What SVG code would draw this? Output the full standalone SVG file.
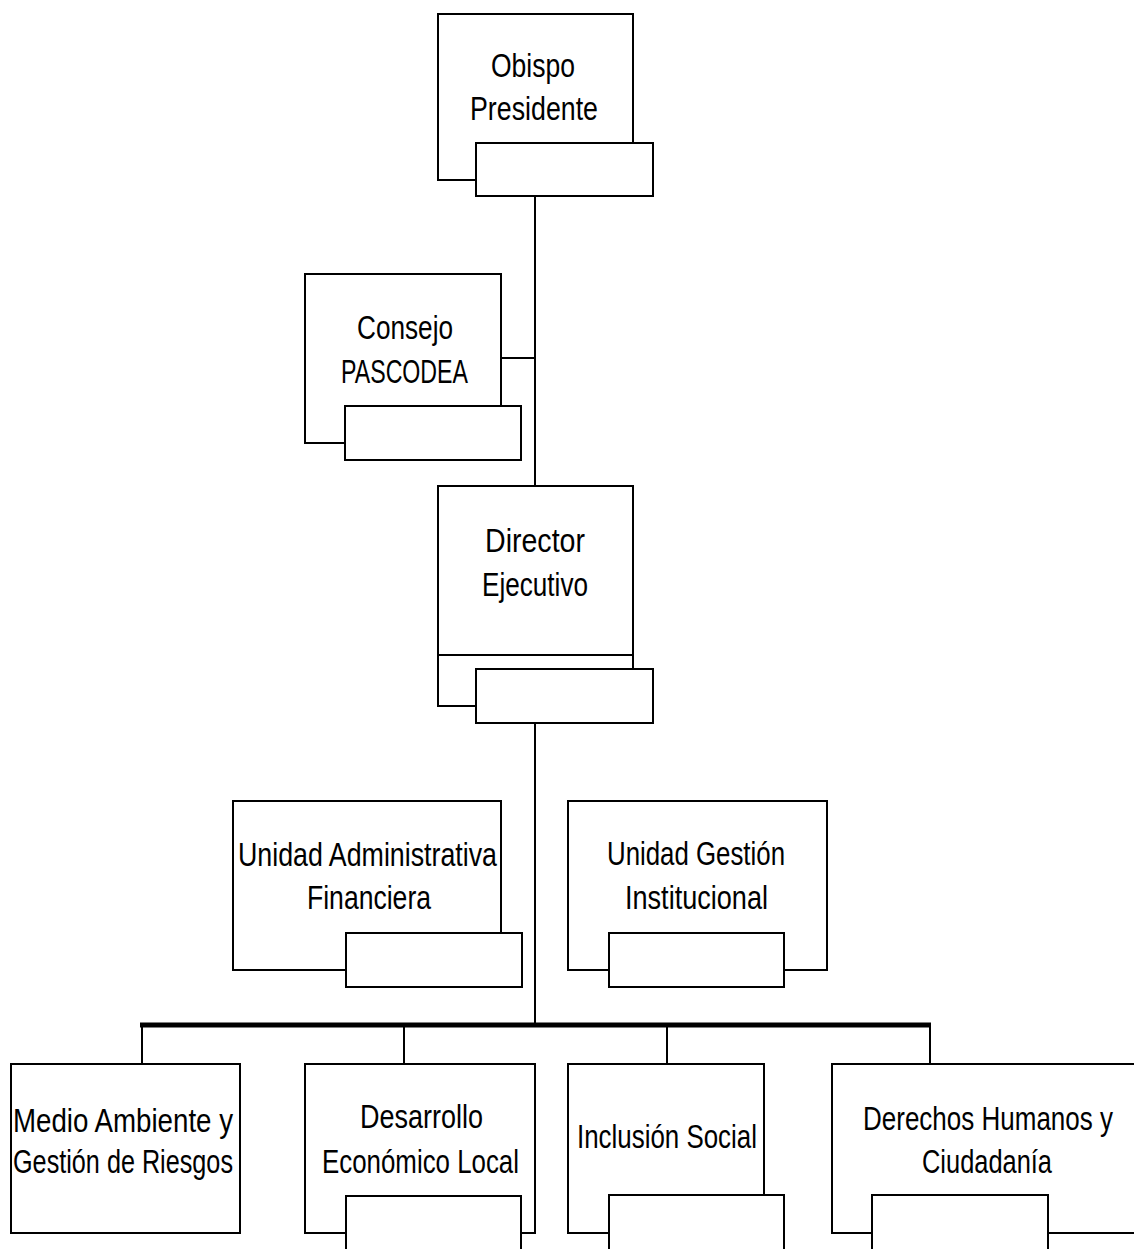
<svg xmlns="http://www.w3.org/2000/svg" width="1134" height="1249" viewBox="0 0 1134 1249">
<style>
.box{fill:#fff;stroke:#000;stroke-width:2}
.ln{fill:none;stroke:#000;stroke-width:2}
.t{font-family:"Liberation Sans",Arial,sans-serif;font-size:34px;fill:#000}
</style>
<rect width="1134" height="1249" fill="#fff"/>
<g id="connectors">
<line class="ln" x1="535" y1="196" x2="535" y2="486"/>
<line class="ln" x1="501" y1="358" x2="535" y2="358"/>
<line class="ln" x1="535" y1="723" x2="535" y2="1025"/>
<line x1="140" y1="1025" x2="931" y2="1025" stroke="#000" stroke-width="5"/>
<line class="ln" x1="142" y1="1025" x2="142" y2="1064"/>
<line class="ln" x1="404" y1="1025" x2="404" y2="1064"/>
<line class="ln" x1="667" y1="1025" x2="667" y2="1064"/>
<line class="ln" x1="930" y1="1025" x2="930" y2="1064"/>
</g>
<g id="obispo">
<rect class="box" x="438" y="14" width="195" height="166"/>
<text class="t" x="491" y="77" textLength="84" lengthAdjust="spacingAndGlyphs">Obispo</text>
<text class="t" x="470" y="120" textLength="128" lengthAdjust="spacingAndGlyphs">Presidente</text>
<rect class="box" x="476" y="143" width="177" height="53"/>
</g>
<g id="consejo">
<rect class="box" x="305" y="274" width="196" height="169"/>
<text class="t" x="357" y="339" textLength="96" lengthAdjust="spacingAndGlyphs">Consejo</text>
<text class="t" x="341" y="383" textLength="127" lengthAdjust="spacingAndGlyphs">PASCODEA</text>
<rect class="box" x="345" y="406" width="176" height="54"/>
</g>
<g id="director">
<rect class="box" x="438" y="486" width="195" height="220"/>
<line class="ln" x1="438" y1="655" x2="633" y2="655"/>
<text class="t" x="485" y="552" textLength="100" lengthAdjust="spacingAndGlyphs">Director</text>
<text class="t" x="482" y="596" textLength="106" lengthAdjust="spacingAndGlyphs">Ejecutivo</text>
<rect class="box" x="476" y="669" width="177" height="54"/>
</g>
<g id="unidad-admin">
<rect class="box" x="233" y="801" width="268" height="169"/>
<text class="t" x="238" y="866" textLength="259" lengthAdjust="spacingAndGlyphs">Unidad Administrativa</text>
<text class="t" x="307" y="909" textLength="124" lengthAdjust="spacingAndGlyphs">Financiera</text>
<rect class="box" x="346" y="933" width="176" height="54"/>
</g>
<g id="unidad-gestion">
<rect class="box" x="568" y="801" width="259" height="169"/>
<text class="t" x="607" y="865" textLength="178" lengthAdjust="spacingAndGlyphs">Unidad Gestión</text>
<text class="t" x="625" y="909" textLength="143" lengthAdjust="spacingAndGlyphs">Institucional</text>
<rect class="box" x="609" y="933" width="175" height="54"/>
</g>
<g id="medio-ambiente">
<rect class="box" x="11" y="1064" width="229" height="169"/>
<text class="t" x="13" y="1132" textLength="220" lengthAdjust="spacingAndGlyphs">Medio Ambiente y</text>
<text class="t" x="13" y="1173" textLength="220" lengthAdjust="spacingAndGlyphs">Gestión de Riesgos</text>
</g>
<g id="desarrollo">
<rect class="box" x="305" y="1064" width="230" height="169"/>
<text class="t" x="360" y="1128" textLength="123" lengthAdjust="spacingAndGlyphs">Desarrollo</text>
<text class="t" x="322" y="1173" textLength="197" lengthAdjust="spacingAndGlyphs">Económico Local</text>
<rect class="box" x="346" y="1196" width="175" height="60"/>
</g>
<g id="inclusion">
<rect class="box" x="568" y="1064" width="196" height="169"/>
<text class="t" x="577" y="1148" textLength="180" lengthAdjust="spacingAndGlyphs">Inclusión Social</text>
<rect class="box" x="609" y="1195" width="175" height="60"/>
</g>
<g id="derechos">
<path class="box" d="M1134,1064 H832 V1233 H1134"/>
<text class="t" transform="translate(863,1130) scale(0.78,1)" x="0" y="0" textLength="320.5" lengthAdjust="spacingAndGlyphs">Derechos Humanos y</text>
<text class="t" x="922" y="1173" textLength="130" lengthAdjust="spacingAndGlyphs">Ciudadanía</text>
<rect class="box" x="872" y="1195" width="176" height="60"/>
</g>
</svg>
